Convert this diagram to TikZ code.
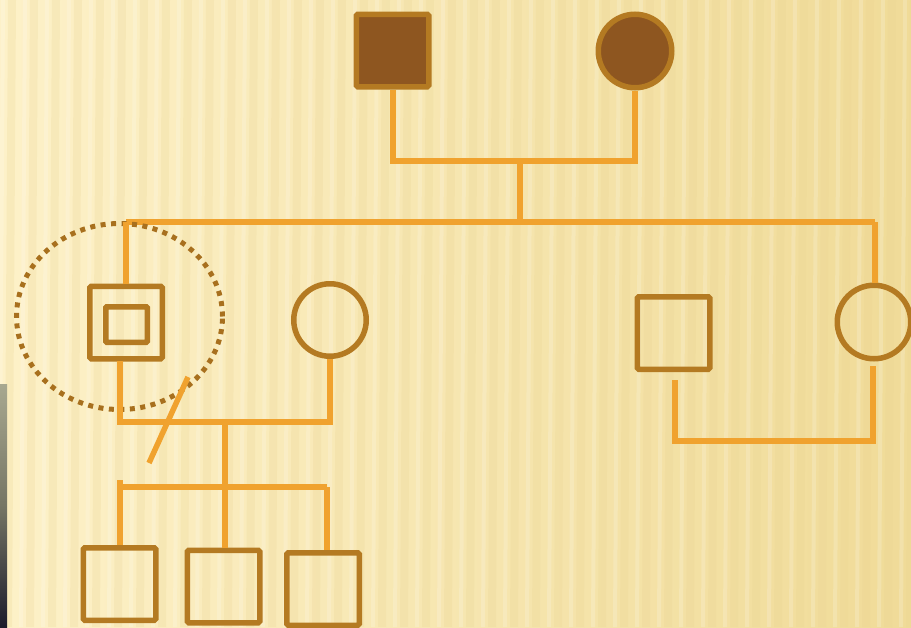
\documentclass[tikz,border=0pt]{standalone}
\usetikzlibrary{shapes.geometric}
\definecolor{bgA}{HTML}{FDF1C8}
\definecolor{bgB}{HTML}{F0DB98}
\definecolor{stripe}{HTML}{E8D290}
\definecolor{lineC}{HTML}{F0A22E}
\definecolor{symC}{HTML}{B47A22}
\definecolor{fillC}{HTML}{8E5620}
\definecolor{dotC}{HTML}{A8701E}
\definecolor{stripL}{HTML}{A8A890}
\definecolor{stripD}{HTML}{1C1C2C}
\begin{document}
\begin{tikzpicture}[x=1pt,y=-1pt,
  link/.style={draw=lineC,line width=5.5pt},
  male/.style={draw=symC,line width=5.5pt,rounded corners=1.5pt,minimum size=72.5pt,inner sep=0pt,rectangle},
  female/.style={draw=symC,line width=5.5pt,circle,inner sep=0pt},
  affected/.style={fill=fillC}]
% background
\path[use as bounding box] (0,0) rectangle (911,627);
\shade[left color=bgA,right color=bgB] (0,0) rectangle (911,627);
\foreach \i in {0,...,41}{
  \fill[stripe,opacity=0.22] (\i*22+8,0) -- (\i*22+16,0) -- (\i*22+12,627) -- (\i*22+4,627) -- cycle;
  \fill[white,opacity=0.18] (\i*22+1,0) -- (\i*22+5,0) -- (\i*22+1,627) -- (\i*22-3,627) -- cycle;
}
\shade[top color=stripL,bottom color=stripD,middle color=stripL!70!black] (0,384) rectangle (7,627);
% generation I
\node[male,affected] (f) at (392.5,50.5) {};
\node[female,affected,minimum size=73.5pt] (m) at (635,51) {};
\coordinate (fl) at (393,161);
\coordinate (fr) at (635,161);
\coordinate (fm) at (520,161);
\coordinate (fmb) at (520,222);
\draw[link] (f.south -| fl) -- (fl) -- (fr) -- (m.south);
\draw[link] (fm) -- (fmb);
\coordinate (sl) at (126,222);
\coordinate (sr) at (875,222);
\draw[link] (sl) -- (sr);
% generation II
\node[male] (p) at (126,322.5) {};
\node[draw=symC,line width=5.5pt,rounded corners=1pt,minimum width=41.5pt,minimum height=35.5pt,inner sep=0pt] (pi) at (126.5,324.5) {};
\node[draw=dotC,line width=5pt,dash pattern=on 5pt off 5.5pt,ellipse,minimum width=206pt,minimum height=186pt,inner sep=0pt] (ring) at (119.5,316.5) {};
\node[female,minimum size=72.5pt] (w) at (330,320) {};
\node[male] (h2) at (673.5,333) {};
\node[female,minimum size=73.5pt] (d2) at (874,322) {};
\draw[link] (sl) -- (sl |- p.north);
\draw[link] (sr) -- (sr |- d2.north);
% marriage of proband
\coordinate (pm0) at (120,361);
\coordinate (pm1) at (120,422);
\coordinate (pm2) at (330,422);
\draw[link] (pm0) -- (pm1) -- (pm2) -- (w.south);
\coordinate (dv1) at (188,377);
\coordinate (dv2) at (149,463);
\draw[link] (dv1) -- (dv2);
% right couple
\coordinate (rc1) at (675,380);
\coordinate (rc2) at (873,366);
\coordinate (rc3) at (675,441);
\coordinate (rc4) at (873,441);
\draw[link] (rc1) -- (rc3) -- (rc4) -- (rc2);
% generation III
\node[male] (c1) at (119.5,584) {};
\node[male] (c2) at (223.5,586.5) {};
\node[male] (c3) at (323,589) {};
\coordinate (sib) at (225,487);
\coordinate (sibL) at (120,487);
\coordinate (sibLt) at (120,480);
\coordinate (sibR) at (327,487);
\draw[link] (225,422) -- (sib);
\draw[link] (sibL) -- (sibR);
\draw[link] (sibLt) -- (sibLt |- c1.north);
\draw[link] (sib) -- (sib |- c2.north);
\draw[link] (sibR) -- (sibR |- c3.north);
\end{tikzpicture}
\end{document}
